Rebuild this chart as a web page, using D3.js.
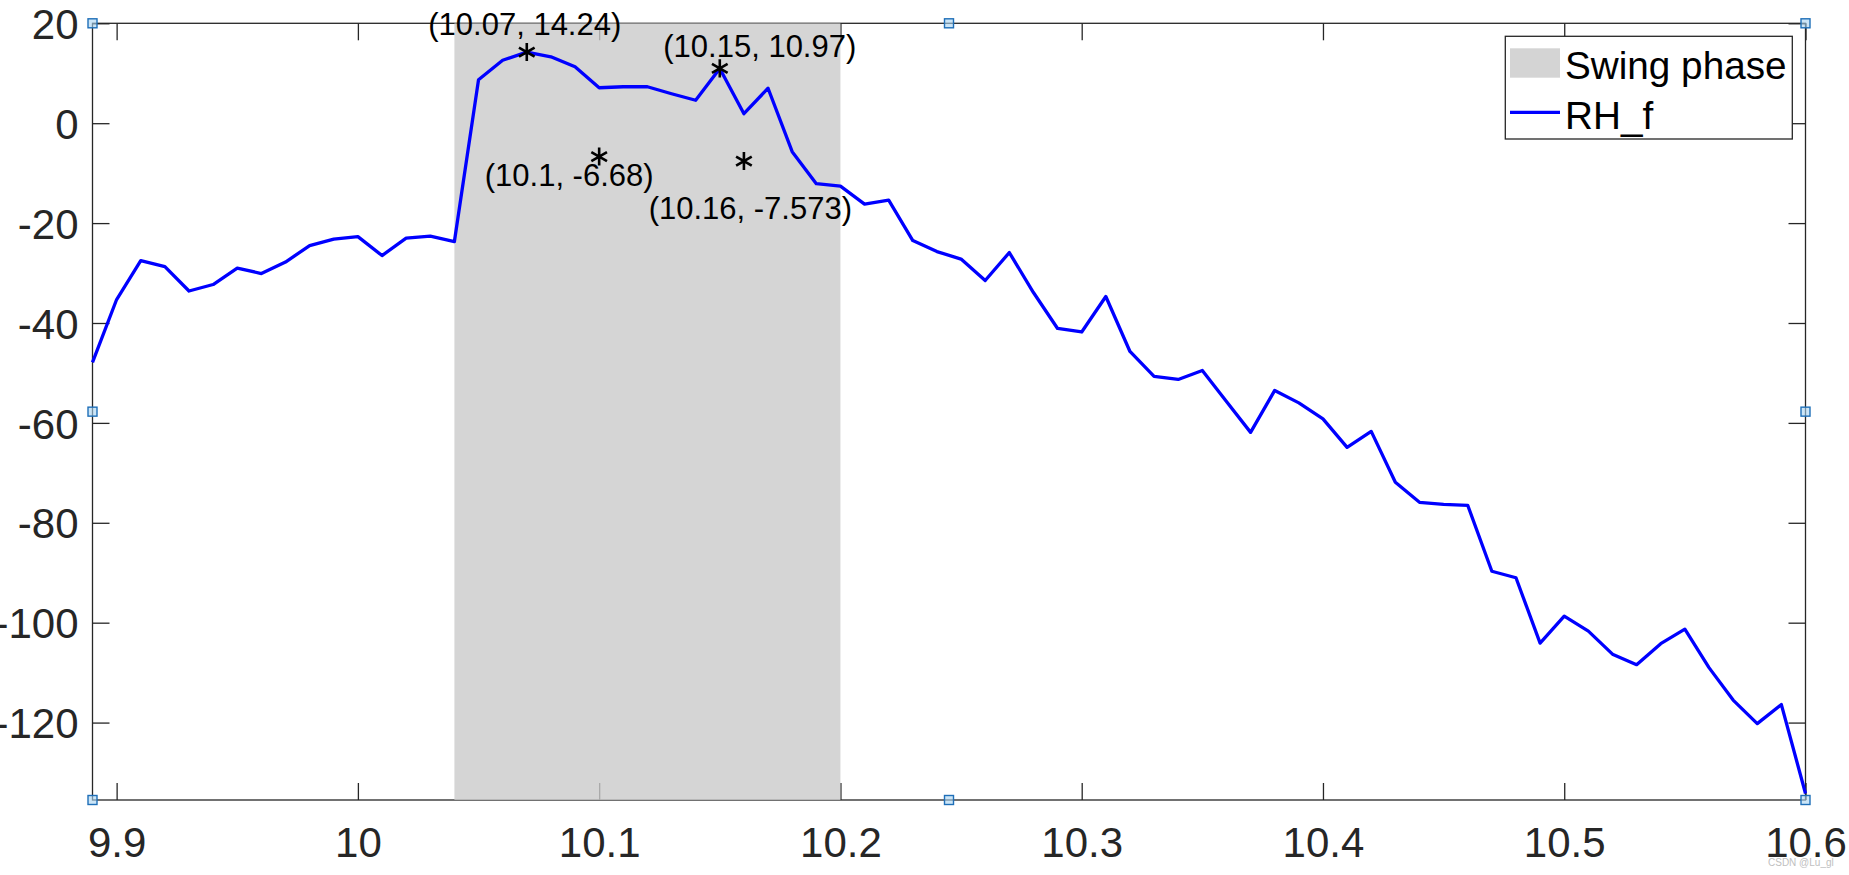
<!DOCTYPE html>
<html><head><meta charset="utf-8">
<script src="https://cdn.jsdelivr.net/npm/d3@7"></script>
<style>html,body{margin:0;padding:0;background:#fff;overflow:hidden}text{font-family:"Liberation Sans",Arial,sans-serif}</style>
</head><body>
<svg id="chart" width="1849" height="875"></svg>
<script>
// ---- data ----
const timeS = [9.89,9.90,9.91,9.92,9.93,9.94,9.95,9.96,9.97,9.98,9.99,10.00,10.01,10.02,10.03,10.04,10.05,10.06,10.07,10.08,10.09,10.10,10.11,10.12,10.13,10.14,10.15,10.16,10.17,10.18,10.19,10.20,10.21,10.22,10.23,10.24,10.25,10.26,10.27,10.28,10.29,10.30,10.31,10.32,10.33,10.34,10.35,10.36,10.37,10.38,10.39,10.40,10.41,10.42,10.43,10.44,10.45,10.46,10.47,10.48,10.49,10.50,10.51,10.52,10.53,10.54,10.55,10.56,10.57,10.58,10.59,10.60];
const rhF = [-47.9,-35.3,-27.5,-28.7,-33.6,-32.3,-29.0,-30.1,-27.8,-24.5,-23.2,-22.7,-26.5,-23.0,-22.6,-23.7,8.7,12.6,14.24,13.3,11.3,7.1,7.3,7.3,5.9,4.6,10.97,1.9,7.0,-5.7,-12.1,-12.6,-16.2,-15.4,-23.5,-25.7,-27.2,-31.5,-25.9,-33.9,-41.1,-41.8,-34.7,-45.7,-50.7,-51.3,-49.5,-55.7,-61.9,-53.5,-56.0,-59.2,-64.9,-61.7,-71.9,-75.9,-76.3,-76.5,-89.7,-91.0,-104.1,-98.7,-101.7,-106.3,-108.4,-104.2,-101.3,-109.0,-115.5,-120.2,-116.4,-134.2];
const swingPhase = [10.04, 10.2];
const xTicks = [9.9,10,10.1,10.2,10.3,10.4,10.5,10.6];
const yTicks = [20,0,-20,-40,-60,-80,-100,-120];
const xLimits = [9.89, 10.6];
const yLimits = [-135.5, 20];
const markX = [10.07, 10.1, 10.15, 10.16];
const markY = [14.24, -6.68, 10.97, -7.573];
const markLabels = ["(10.07, 14.24)","(10.1, -6.68)","(10.15, 10.97)","(10.16, -7.573)"];
const legendLabels = ["Swing phase","RH_f"];

// ---- layout / style ----
const labelOffsets = [[-2,-17.5],[-30,29.4],[40,-11.4],[6.4,57.5]];
const L = 92.5, R = 1805.5, T = 23.3, B = 800;
const axisColor = "#262626", lineColor = "#0000ff";
const svg = d3.select("#chart");

const x = d3.scaleLinear().domain(xLimits).range([L, R]);
const y = d3.scaleLinear().domain(yLimits).range([B, T]);
const tickLen = 17;

function styleAxis(g){
  g.select(".domain").remove();
  g.selectAll(".tick line").attr("stroke", axisColor).attr("stroke-width", 1.3);
  g.selectAll(".tick text").attr("fill", axisColor).style("font-size","42px")
    .style("font-family", '"Liberation Sans", Arial, sans-serif');
}

// bottom
const gB = svg.append("g").attr("transform", `translate(0,${B})`)
  .call(d3.axisBottom(x).tickValues(xTicks).tickSize(-tickLen).tickSizeOuter(0).tickFormat(d => String(d)));
styleAxis(gB);
gB.selectAll(".tick text").attr("y", 57).attr("dy", null);
// top
const gT = svg.append("g").attr("transform", `translate(0,${T})`)
  .call(d3.axisTop(x).tickValues(xTicks).tickSize(-tickLen).tickSizeOuter(0).tickFormat(""));
styleAxis(gT);
// left
const gL = svg.append("g").attr("transform", `translate(${L},0)`)
  .call(d3.axisLeft(y).tickValues(yTicks).tickSize(-tickLen).tickSizeOuter(0).tickFormat(d => String(d)));
styleAxis(gL);
gL.selectAll(".tick text").attr("x", -14).attr("dy", "0.36em");
// right
const gR = svg.append("g").attr("transform", `translate(${R},0)`)
  .call(d3.axisRight(y).tickValues(yTicks).tickSize(-tickLen).tickSizeOuter(0).tickFormat(""));
styleAxis(gR);

// box
svg.append("rect").attr("x", L).attr("y", T).attr("width", R - L).attr("height", B - T)
  .attr("fill", "none").attr("stroke", axisColor).attr("stroke-width", 1.3);

// swing phase patch (semi-transparent, over axes)
svg.append("rect")
  .attr("x", x(swingPhase[0])).attr("y", y(yLimits[1]))
  .attr("width", x(swingPhase[1]) - x(swingPhase[0]))
  .attr("height", y(yLimits[0]) - y(yLimits[1]))
  .attr("fill", "#cacaca").attr("fill-opacity", 0.8);

// line
const pts = timeS.map((t, i) => [t, rhF[i]]);
svg.append("path").datum(pts)
  .attr("d", d3.line().x(d => x(d[0])).y(d => y(d[1])))
  .attr("fill", "none").attr("stroke", lineColor).attr("stroke-width", 3.3)
  .attr("stroke-linejoin", "round");

// markers + labels
const star = d3.symbol().type(d3.symbolAsterisk).size(230);
markX.forEach((mx, i) => {
  svg.append("path").attr("d", star())
    .attr("transform", `translate(${x(mx)},${y(markY[i])})`)
    .attr("fill", "none").attr("stroke", "#000").attr("stroke-width", 2.6);
  svg.append("text")
    .attr("x", x(mx) + labelOffsets[i][0]).attr("y", y(markY[i]) + labelOffsets[i][1])
    .attr("text-anchor", "middle").style("font-size", "31px").attr("fill", "#000")
    .text(markLabels[i]);
});

// legend
const lg = svg.append("g");
lg.append("rect").attr("x", 1505.3).attr("y", 36.3).attr("width", 287).attr("height", 102.7)
  .attr("fill", "#fff").attr("stroke", axisColor).attr("stroke-width", 1.3);
lg.append("rect").attr("x", 1510).attr("y", 48.3).attr("width", 50).attr("height", 29.4)
  .attr("fill", "#d4d4d4");
lg.append("line").attr("x1", 1510).attr("x2", 1560).attr("y1", 112.3).attr("y2", 112.3)
  .attr("stroke", lineColor).attr("stroke-width", 3.3);
lg.append("text").attr("x", 1565).attr("y", 79).style("font-size", "38.7px").attr("fill", "#000").text(legendLabels[0]);
lg.append("text").attr("x", 1565).attr("y", 129.3).style("font-size", "38.7px").attr("fill", "#000").text(legendLabels[1]);

// selection handles
const xm = (L + R) / 2, ym = (T + B) / 2;
const handles = [[L,T],[xm,T],[R,T],[L,ym],[R,ym],[L,B],[xm,B],[R,B]];
svg.append("g").selectAll("rect").data(handles).join("rect")
  .attr("x", d => d[0] - 4.5).attr("y", d => d[1] - 4.5).attr("width", 9).attr("height", 9)
  .attr("fill", "#a9d3f2").attr("fill-opacity", 0.6)
  .attr("stroke", "#1f6fb8").attr("stroke-width", 1.4);

// watermark
svg.append("text").attr("x", 1768).attr("y", 866).style("font-size", "10px").attr("fill", "#c0c0c0").text("CSDN @Lu_gl");
</script>
</body></html>
